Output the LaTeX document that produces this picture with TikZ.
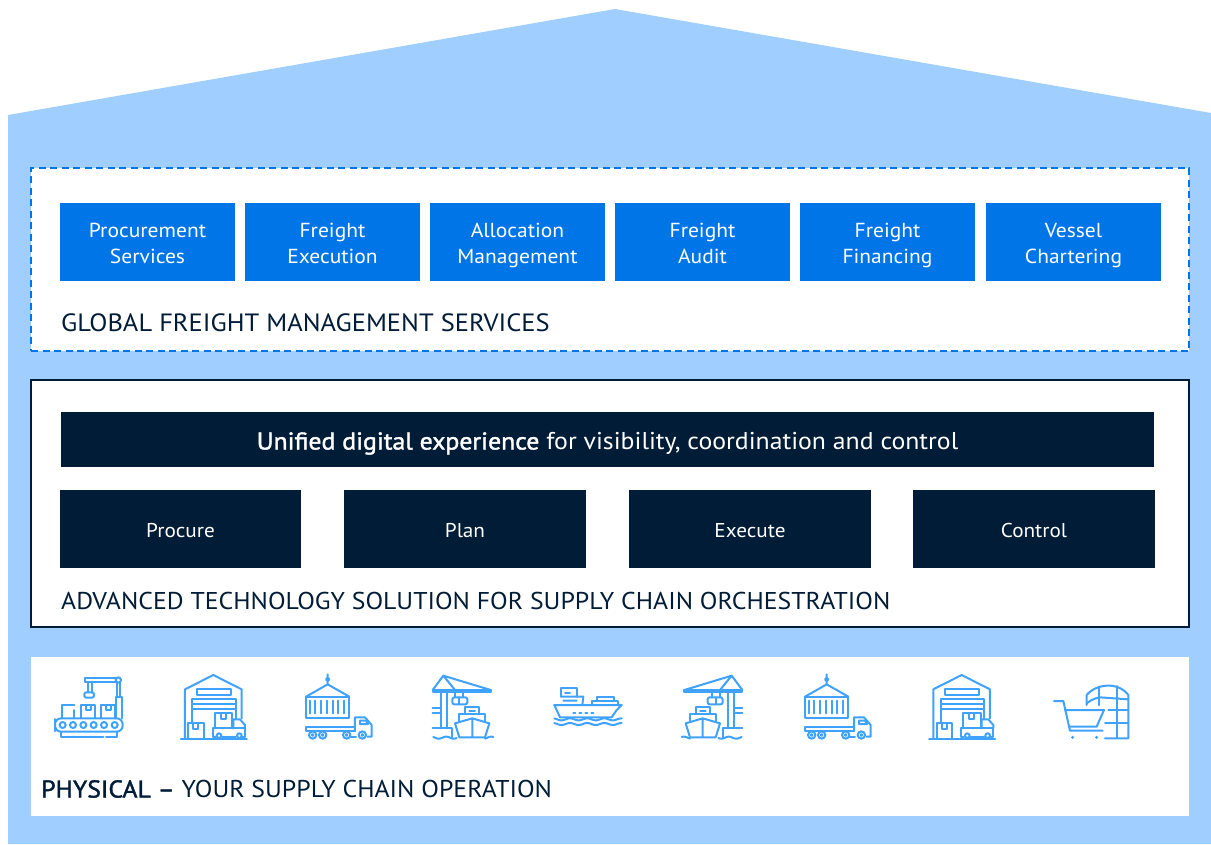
\documentclass[tikz,border=0pt]{standalone}
\usepackage{fontspec}
\setmainfont[FakeStretch=1.06]{PT Sans}
\newfontfamily\heavyfont[FakeStretch=1.06, FakeBold=1.6]{PT Sans}
\usetikzlibrary{positioning}
\definecolor{roofblue}{HTML}{9FCEFF}
\definecolor{svcblue}{HTML}{0075E8}
\definecolor{navy}{HTML}{001C36}
\definecolor{iconblue}{HTML}{3FA2FF}
\tikzset{
    svcbox/.style={rectangle, fill=svcblue, text=white, font=\fontsize{20.3}{26}\selectfont, align=center, minimum width=175pt, minimum height=78pt, inner sep=0pt, text height=42pt, text depth=0pt},
    stagebox/.style={rectangle, fill=navy, text=white, font=\fontsize{20}{24}\selectfont, minimum width=241.5pt, minimum height=78pt, inner sep=0pt, text height=16pt, text depth=0pt},
    caption/.style={anchor=west, text=navy, inner sep=0pt, font=\fontsize{24.3}{28}\selectfont},
    iconline/.style={draw=iconblue, line width=2pt, line join=round, line cap=round},
    % Icons, drawn at three times their size
    belt/.pic={
        \draw[iconline, rounded corners=6pt] (75,195) -- (75,175) -- (278,175) -- (278,215) -- (75,215) -- cycle;
        \foreach \x in {98,129,160,191,222,254} {\draw[iconline] (\x,195) circle [radius=9];}
        \draw[iconline] (92,215) -- (92,232) -- (220,232) (228,232) -- (262,232) -- (262,215);
        \draw[iconline] (97,175) -- (97,135) -- (133,135) (133,150) -- (133,175);
        \draw[iconline] (153,175) -- (153,135) -- (195,135) -- (195,175) (168,135) -- (168,150) -- (183,150) -- (183,135);
        \draw[iconline] (213,175) -- (213,135) -- (255,135) -- (255,175) (228,135) -- (228,150) -- (243,150) -- (243,135);
        \draw[iconline] (277,175) -- (277,110) -- (257,110) -- (257,175);
        \draw[iconline] (262,70) -- (262,108) (270,70) -- (270,108);
        \draw[iconline] (265,60) circle [radius=8];
        \draw[iconline] (257,55) -- (165,55) -- (165,65) -- (257,65);
        \draw[iconline] (175,65) -- (175,97) (185,65) -- (185,97);
        \draw[iconline, rounded corners=2pt] (163,97) rectangle (192,113);
    },
    depot/.pic={
        \draw[iconline] (465,235) -- (465,88) -- (550,45) -- (635,88) -- (635,175);
        \draw[iconline] (500,88) rectangle (603,105);
        \draw[iconline] (487,190) -- (487,118) -- (617,118) -- (617,175);
        \draw[iconline] (487,132) -- (617,132) (487,148) -- (617,148);
        \draw[iconline] (475,190) rectangle (522,236);
        \draw[iconline] (490,190) -- (490,207) -- (505,207) -- (505,190);
        \draw[iconline] (555,205) -- (555,160) -- (607,160) -- (607,205);
        \draw[iconline] (573,160) -- (573,178) -- (588,178) -- (588,160);
        \draw[iconline] (557,232) -- (548,232) -- (548,205) -- (645,205) -- (645,232) -- (637,232);
        \draw[iconline] (610,205) -- (610,178) -- (630,178) -- (645,195) -- (645,205);
        \draw[iconline] (577,232) -- (618,232);
        \draw[iconline] (567,227) circle [radius=7] (628,227) circle [radius=7];
        \draw[iconline, line width=2.4pt] (453,237) -- (650,237);
    },
    lorry/.pic={
        \draw[iconline] (893,58) circle [radius=5] (893,43) -- (893,53);
        \draw[iconline] (893,63) -- (893,73) (828,110) -- (893,73) -- (958,110);
        \draw[iconline] (828,110) rectangle (958,175);
        \foreach \x in {840,856,873,890,908,925,941} {\draw[iconline] (\x,122) -- (\x,160);}
        \draw[iconline] (828,200) rectangle (975,213);
        \draw[iconline] (975,213) -- (975,172) -- (1005,172) -- (1025,195) -- (1025,230) -- (1012,230);
        \draw[iconline] (990,182) -- (1008,182) -- (1014,192) -- (990,192) -- cycle;
        \draw[iconline] (978,230) -- (962,230);
        \foreach \x in {848,878,950,997} {\draw[iconline, fill=white] (\x,225) circle [radius=11]; \draw[iconline] (\x,225) circle [radius=2.5];}
    },
    crane/.pic={
        \draw[iconline] (38,90) -- (70,47) -- (105,90) (70,47) -- (212,90);
        \draw[iconline] (38,97) -- (212,97) -- (212,90) -- (38,90) -- cycle;
        \foreach \x in {50,70,90,110,130,150,170,190} {\draw[iconline, line width=1.2pt] (\x,97) -- (\x+10,90) -- (\x+20,97);}
        \draw[iconline] (62,97) -- (62,205) (80,97) -- (80,205);
        \draw[iconline] (38,205) -- (95,205) -- (95,232);
        \draw[iconline] (38,145) -- (62,145) (38,160) -- (62,160);
        \draw[iconline] (105,97) -- (105,112) (130,97) -- (130,112) (118,112) -- (118,133);
        \draw[iconline, rounded corners=2pt] (97,112) rectangle (142,133);
        \draw[iconline] (118,185) -- (118,162) -- (195,162) -- (195,185);
        \draw[iconline] (135,162) -- (135,142) -- (178,142) -- (178,162);
        \draw[iconline] (148,152) -- (165,152);
        \draw[iconline] (105,190) -- (157,175) -- (208,190) -- (195,232) -- (118,232) -- cycle (157,175) -- (157,232);
        \draw[iconline] plot[domain=40:110, samples=30] (\x,{233+3*sin(\x*8)});
        \draw[iconline] plot[domain=195:220, samples=14] (\x,{233+3*sin(\x*8)});
    },
    freighter/.pic={
        \draw[iconline] (423,110) -- (423,85) -- (470,85) -- (470,110);
        \draw[iconline] (435,98) -- (450,98);
        \draw[iconline] (423,110) -- (490,110) -- (487,135) (430,122) -- (470,122);
        \draw[iconline] (530,122) -- (530,110) -- (582,110) -- (582,122);
        \draw[iconline] (517,135) -- (517,122) -- (595,122) -- (595,135);
        \draw[iconline] (403,135) -- (605,135) -- (590,150) -- (575,172) -- (420,172) -- cycle;
        \draw[iconline, dash pattern=on 2pt off 4pt] (460,160) -- (525,160);
        \draw[iconline] plot[domain=403:605, samples=60] (\x,{178+3*sin(\x*7)});
        \draw[iconline] plot[domain=403:605, samples=60] (\x,{192+3*sin(\x*7)});
    },
    trolley/.pic={
        \draw[iconline] (822,123) -- (850,123) -- (870,212) -- (968,212);
        \draw[iconline] (855,150) -- (972,150) -- (950,200) -- (868,200);
        \fill[iconblue] (878,232) circle [radius=5] (950,232) circle [radius=5];
        \draw[iconline] (920,135) -- (920,105) .. controls (950,70) and (1015,65) .. (1045,105) -- (1045,235) -- (975,235);
        \draw[iconline] (920,130) .. controls (935,118) and (950,113) .. (960,112) -- (1045,118);
        \draw[iconline] (957,80) -- (957,135) (1012,78) -- (1012,232);
        \draw[iconline] (985,150) -- (1045,150) (975,190) -- (1045,190);
    }
}
\begin{document}
\begin{tikzpicture}[x=1pt, y=-1pt]
\useasboundingbox (0,0) rectangle (1211,844);
% House outline
\fill[roofblue] (8,844) -- (8,115) -- (615,9) -- (1211,113) -- (1211,844) -- cycle;

% Global freight services
\node[rectangle, draw=svcblue, fill=white, line width=2.4pt, dash pattern=on 7pt off 4.5pt, minimum width=1158pt, minimum height=183pt, inner sep=0pt] (freightpanel) at (610,259.5) {};
\foreach \i/\x/\txt in {1/147.5/Procurement\\Services, 2/332.5/Freight\\Execution, 3/517.5/Allocation\\Management, 4/702.5/Freight\\Audit, 5/887.5/Freight\\Financing, 6/1073.5/Vessel\\Chartering} {
    \node[svcbox] (svc\i) at (\x,242) {\txt};
}
\node[caption, font=\fontsize{25}{28}\selectfont] (freightlabel) at (61,323) {GLOBAL FREIGHT MANAGEMENT SERVICES};

% Technology solution
\node[rectangle, draw=navy, fill=white, line width=2.2pt, minimum width=1158pt, minimum height=247pt, inner sep=0pt] (techpanel) at (610,503.5) {};
\node[rectangle, fill=navy, text=white, minimum width=1093pt, minimum height=55pt, inner sep=0pt, font=\fontsize{24.3}{28}\selectfont, text height=20pt, text depth=0pt] (unified) at (607.5,439.5) {{\heavyfont Unified digital experience} for visibility, coordination and control};
\foreach \i/\x/\txt in {1/180.5/Procure, 2/465/Plan, 3/750/Execute, 4/1034/Control} {
    \node[stagebox] (stage\i) at (\x,529) {\txt};
}
\node[caption] (techlabel) at (61,601) {ADVANCED TECHNOLOGY SOLUTION FOR SUPPLY CHAIN ORCHESTRATION};

% Physical operation
\node[rectangle, fill=white, minimum width=1158pt, minimum height=159pt, inner sep=0pt] (physpanel) at (610,736.5) {};
\node[caption] (physlabel) at (41,789) {{\heavyfont PHYSICAL –} YOUR SUPPLY CHAIN OPERATION};
\pic[scale=1/3] at (30,660) {belt};
\pic[scale=1/3] at (30,660) {depot};
\pic[scale=1/3] at (30,660) {lorry};
\pic[scale=1/3] at (420,660) {crane};
\pic[scale=1/3] at (420,660) {freighter};
\pic[xscale=-1/3, yscale=1/3] at (755,660) {crane};
\pic[scale=1/3] at (529,660) {lorry};
\pic[scale=1/3] at (778.3,660) {depot};
\pic[scale=1/3] at (780,660) {trolley};
\end{tikzpicture}
\end{document}
